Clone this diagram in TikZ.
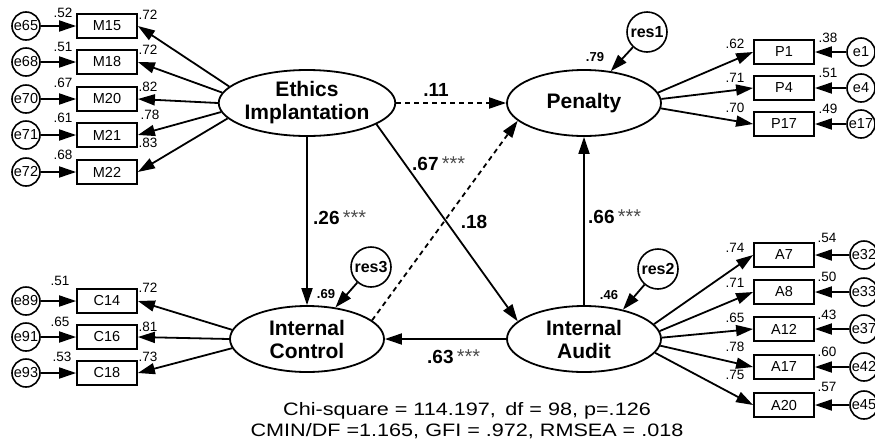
\documentclass[tikz,border=0pt]{standalone}
\usepackage{fontspec}
\setmainfont{Liberation Sans}
\usepackage{graphicx}
\usetikzlibrary{shapes.geometric,arrows.meta}
\tikzset{
 lat/.style={ellipse, draw, line width=1.8pt, minimum width=154pt, minimum height=66pt, inner sep=0pt, align=center, fill=white, font=\fontsize{21}{23}\selectfont\bfseries},
 ind/.style={rectangle, draw, line width=1.8pt, minimum width=60pt, minimum height=24pt, inner sep=0pt, font=\fontsize{14.5}{16}\selectfont},
 err/.style={circle, draw, line width=1.6pt, minimum size=28pt, inner sep=0pt, font=\fontsize{14.5}{16}\selectfont},
 resid/.style={circle, draw, line width=1.6pt, minimum size=40pt, inner sep=0pt, font=\fontsize{16}{18}\selectfont\bfseries},
 coef/.style={inner sep=0pt, font=\fontsize{13.5}{15}\selectfont},
 rcoef/.style={inner sep=0pt, font=\fontsize{13}{15}\selectfont\bfseries},
 pcoef/.style={inner sep=0pt, font=\fontsize{19}{21}\selectfont\bfseries},
 arr/.style={-{Triangle[length=17pt,width=11pt]}, line width=1.8pt},
 dsh/.style={arr, dash pattern=on 5pt off 4pt},
 fittxt/.style={inner sep=0pt, anchor=base, font=\fontsize{18}{18}\selectfont},
}
\newcommand{\stars}{\,{\mdseries\fontsize{20}{20}\selectfont\color{black!70}***}}
\begin{document}
\begin{tikzpicture}[x=1pt,y=-1pt]
\useasboundingbox (0,0) rectangle (875,445);
% latent variables
\node[lat] (EI) at (307,103) {Ethics\\Implantation};
\node[lat] (Pen) at (584,103) {Penalty};
\node[lat] (IC) at (307,339) {Internal\\Control};
\node[lat] (IA) at (584,339) {Internal\\Audit};
% residuals
\node[resid] (res1) at (647,32) {res1};
\node[resid] (res3) at (371,267) {res3};
\node[resid] (res2) at (658,269) {res2};
% left M indicators
\node[ind] (M15) at (107,26) {M15};
\node[ind] (M18) at (107,62) {M18};
\node[ind] (M20) at (107,99) {M20};
\node[ind] (M21) at (107,135) {M21};
\node[ind] (M22) at (107,172) {M22};
\node[err] (e65) at (26,26) {e65};
\node[err] (e68) at (26,62) {e68};
\node[err] (e70) at (26,99) {e70};
\node[err] (e71) at (26,135) {e71};
\node[err] (e72) at (26,172) {e72};
% left C indicators
\node[ind] (C14) at (107,301) {C14};
\node[ind] (C16) at (107,337) {C16};
\node[ind] (C18) at (107,373) {C18};
\node[err] (e89) at (26,301) {e89};
\node[err] (e91) at (26,337) {e91};
\node[err] (e93) at (26,373) {e93};
% right P indicators
\node[ind] (P1) at (784,52) {P1};
\node[ind] (P4) at (784,88) {P4};
\node[ind] (P17) at (784,124) {P17};
\node[err] (e1) at (861,52) {e1};
\node[err] (e4) at (861,88) {e4};
\node[err] (e17) at (861,124) {e17};
% right A indicators
\node[ind] (A7) at (784,255) {A7};
\node[ind] (A8) at (784,292) {A8};
\node[ind] (A12) at (784,329) {A12};
\node[ind] (A17) at (784,367) {A17};
\node[ind] (A20) at (784,405) {A20};
\node[err] (e32) at (864,255) {e32};
\node[err] (e33) at (864,292) {e33};
\node[err] (e37) at (864,329) {e37};
\node[err] (e42) at (864,367) {e42};
\node[err] (e45) at (864,405) {e45};
% loadings
\draw[arr] (EI.168) -- (M15.east);
\draw[arr] (EI.173) -- (M18.east);
\draw[arr] (EI.180) -- (M20.east);
\draw[arr] (EI.186) -- (M21.east);
\draw[arr] (EI.191) -- (M22.east);
\draw[arr] (IC.173) -- (C14.east);
\draw[arr] (IC.180) -- (C16.east);
\draw[arr] (IC.187) -- (C18.east);
\draw[arr] (Pen.8) -- (P1.west);
\draw[arr] (Pen.3) -- (P4.west);
\draw[arr] (Pen.-4) -- (P17.west);
\draw[arr] (IA.12) -- (A7.west);
\draw[arr] (IA.6) -- (A8.west);
\draw[arr] (IA.1) -- (A12.west);
\draw[arr] (IA.-5) -- (A17.west);
\draw[arr] (IA.-11) -- (A20.west);
% error arrows
\foreach \e/\m in {e65/M15,e68/M18,e70/M20,e71/M21,e72/M22,e89/C14,e91/C16,e93/C18,e1/P1,e4/P4,e17/P17,e32/A7,e33/A8,e37/A12,e42/A17,e45/A20}
  \draw[arr] (\e) -- (\m);
% structural paths
\draw[dsh] (EI) -- (Pen);
\draw[arr] (EI) -- (IC);
\draw[arr] (EI.-17) -- (IA.165);
\draw[dsh] (IC.16) -- (Pen.195);
\draw[arr] (IA) -- (Pen);
\draw[arr] (IA) -- (IC);
\draw[arr] (res1) -- (Pen.50);
\draw[arr] (res3) -- (IC.48);
\draw[arr] (res2) -- (IA.37);
% path coefficients
\node[pcoef] (c11) at (436,90) {.11};
\node[pcoef, anchor=west] (c26) at (313,218) {.26\stars};
\node[pcoef, anchor=west] (c67) at (412,164) {.67\stars};
\node[pcoef] (c18) at (474,222) {.18};
\node[pcoef, anchor=west] (c66) at (588,217) {.66\stars};
\node[pcoef, anchor=west] (c63) at (427,357) {.63\stars};
% squared multiple correlations
\node[rcoef] (r79) at (595,57) {.79};
\node[rcoef] (r69) at (326,294) {.69};
\node[rcoef] (r46) at (609,295) {.46};
% left coefficients
\node[coef] (k1) at (63,13) {.52};
\node[coef] (k2) at (63,47) {.51};
\node[coef] (k3) at (63,83) {.67};
\node[coef] (k4) at (63,118) {.61};
\node[coef] (k5) at (63,155) {.68};
\node[coef] (k6) at (148,15) {.72};
\node[coef] (k7) at (148,50) {.72};
\node[coef] (k8) at (148,87) {.82};
\node[coef] (k9) at (150,115) {.78};
\node[coef] (k10) at (148,143) {.83};
\node[coef] (k11) at (60,281) {.51};
\node[coef] (k12) at (60,322) {.65};
\node[coef] (k13) at (62,357) {.53};
\node[coef] (k14) at (148,288) {.72};
\node[coef] (k15) at (148,327) {.81};
\node[coef] (k16) at (148,357) {.73};
% right coefficients
\node[coef] (k17) at (735,44) {.62};
\node[coef] (k18) at (735,78) {.71};
\node[coef] (k19) at (735,108) {.70};
\node[coef] (k20) at (828,38) {.38};
\node[coef] (k21) at (828,73) {.51};
\node[coef] (k22) at (828,109) {.49};
\node[coef] (k23) at (735,248) {.74};
\node[coef] (k24) at (735,283) {.71};
\node[coef] (k25) at (735,318) {.65};
\node[coef] (k26) at (735,347) {.78};
\node[coef] (k27) at (735,375) {.75};
\node[coef] (k28) at (827,238) {.54};
\node[coef] (k29) at (827,277) {.50};
\node[coef] (k30) at (827,315) {.43};
\node[coef] (k31) at (827,352) {.60};
\node[coef] (k32) at (827,387) {.57};
% fit indices
\node[fittxt] (fit1) at (467,415) {\scalebox{1.2}[1]{Chi-square = 114.197,\hspace{3pt} df = 98, p=.126}};
\node[fittxt] (fit2) at (467,436) {\scalebox{1.2}[1]{CMIN/DF =1.165, GFI = .972, RMSEA = .018}};
\end{tikzpicture}
\end{document}
